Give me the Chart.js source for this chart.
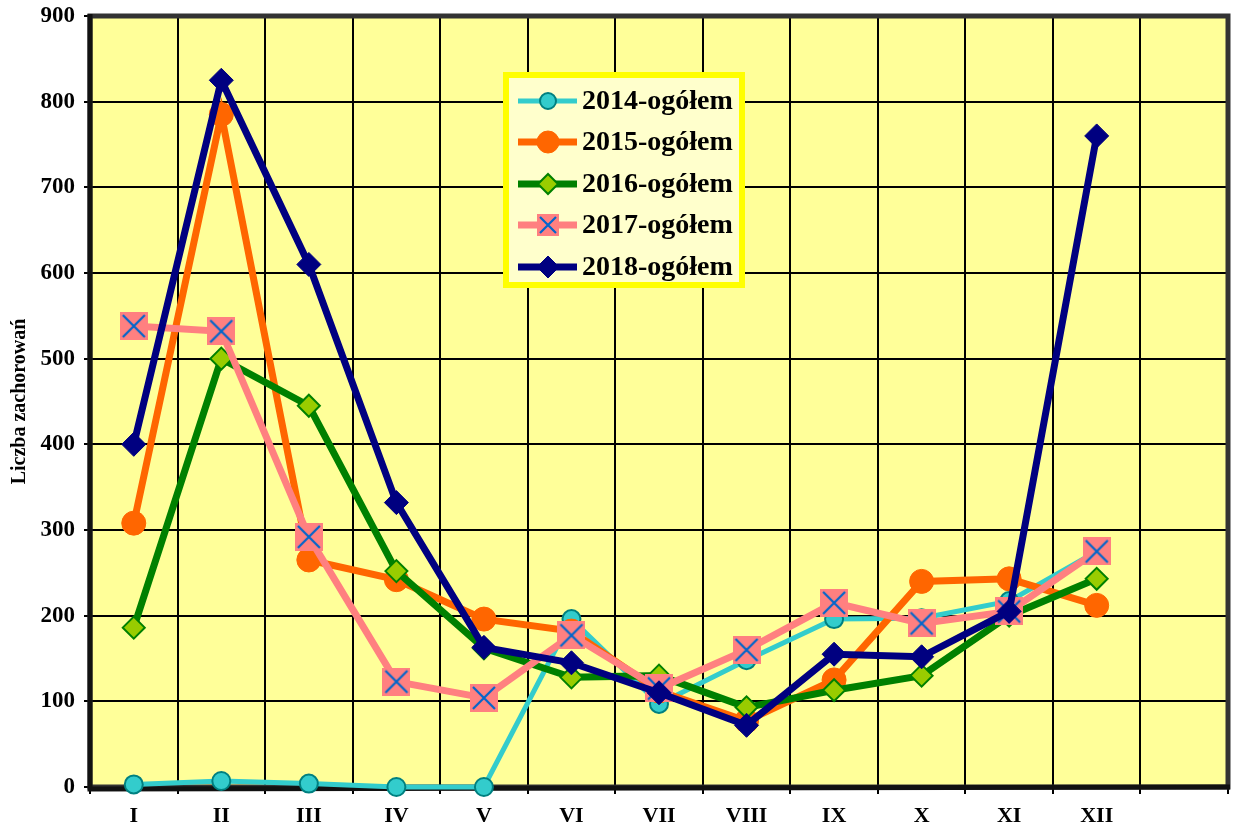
<!DOCTYPE html>
<html lang="pl">
<head>
  <meta charset="UTF-8">
  <title>Liczba zachorowań</title>
  <script src="https://cdn.jsdelivr.net/npm/chart.js"></script>
  <style>
    body { margin: 0; background: #fff; }
    #wrap { width: 1242px; height: 830px; }
  </style>
</head>
<body>
  <div id="wrap"><canvas id="chart" width="1242" height="830"></canvas></div>

  <script>
    // months (13th slot empty, as in the original)
    const months = ['I', 'II', 'III', 'IV', 'V', 'VI', 'VII', 'VIII', 'IX', 'X', 'XI', 'XII', ''];

    const y2014 = [3, 7, 4, 0, 0, 196, 97, 148, 196, 197, 217, 275, null];
    const y2015 = [308, 785, 265, 242, 196, 182, 112, 77, 125, 240, 243, 212, null];
    const y2016 = [186, 500, 445, 252, 162, 128, 130, 93, 113, 130, 200, 243, null];
    const y2017 = [538, 532, 292, 123, 104, 177, 115, 160, 215, 191, 205, 275, null];
    const y2018 = [400, 825, 610, 332, 163, 145, 110, 72, 155, 152, 205, 760, null];

    const seriesNames = ['2014-ogółem', '2015-ogółem', '2016-ogółem', '2017-ogółem', '2018-ogółem'];

    const serif = '"Liberation Serif", "DejaVu Serif", serif';

    // pink square with blue cross marker for 2017
    function crossBox(size) {
      const c = document.createElement('canvas');
      c.width = size; c.height = size;
      const g = c.getContext('2d');
      g.fillStyle = '#FF8080';
      g.fillRect(0, 0, size, size);
      g.strokeStyle = '#0066CC';
      g.lineWidth = 2.2;
      g.beginPath();
      g.moveTo(3, 3); g.lineTo(size - 3, size - 3);
      g.moveTo(size - 3, 3); g.lineTo(3, size - 3);
      g.stroke();
      return c;
    }
    const xMarker = crossBox(28);
    const xMarkerSmall = crossBox(22);

    const bgPlugin = {
      id: 'plotBg',
      beforeDraw(chart) {
        const { ctx, chartArea: a } = chart;
        ctx.save();
        ctx.fillStyle = '#FFFF99';
        ctx.fillRect(a.left, a.top, a.right - a.left, a.bottom - a.top);
        ctx.restore();
      },
      beforeDatasetsDraw(chart) {
        const { ctx, chartArea: a } = chart;
        ctx.save();
        ctx.strokeStyle = '#333333';
        ctx.lineWidth = 5;
        ctx.strokeRect(a.left, a.top, a.right - a.left, a.bottom - a.top);
        ctx.strokeStyle = '#111';
        ctx.beginPath();
        ctx.moveTo(a.left, a.top - 2); ctx.lineTo(a.left, a.bottom + 2);
        ctx.lineTo(a.right + 2, a.bottom);
        ctx.stroke();
        ctx.restore();
      }
    };

    const legendPlugin = {
      id: 'boxLegend',
      afterDraw(chart) {
        const ctx = chart.ctx;
        const bx = 506, by = 75, bw = 236, bh = 210;
        ctx.save();
        ctx.fillStyle = '#FFFFCC';
        ctx.fillRect(bx, by, bw, bh);
        ctx.strokeStyle = '#FFFF00';
        ctx.lineWidth = 6;
        ctx.strokeRect(bx, by, bw, bh);
        const rows = [101, 142, 184, 225, 267];
        chart.data.datasets.forEach((ds, i) => {
          const y = rows[i];
          ctx.strokeStyle = ds.borderColor;
          ctx.lineWidth = ds.borderWidth;
          ctx.beginPath();
          ctx.moveTo(518, y); ctx.lineTo(577, y);
          ctx.stroke();
          if (ds.pointStyle === xMarker) {
            ctx.drawImage(xMarkerSmall, 548 - 11, y - 11);
          } else {
            ctx.fillStyle = ds.pointBackgroundColor;
            ctx.strokeStyle = ds.pointBorderColor;
            ctx.lineWidth = ds.pointBorderWidth;
            Chart.helpers.drawPoint(ctx, {
              pointStyle: ds.pointStyle,
              radius: ds.pointRadius - 1,
              rotation: 0,
              borderWidth: ds.pointBorderWidth
            }, 548, y);
          }
          ctx.fillStyle = '#000';
          ctx.font = 'bold 28px ' + serif;
          ctx.textBaseline = 'middle';
          ctx.textAlign = 'left';
          ctx.fillText(ds.label, 582, y + 1);
        });
        ctx.restore();
      }
    };

    new Chart(document.getElementById('chart'), {
      type: 'line',
      data: {
        labels: months,
        datasets: [
          {
            label: seriesNames[0], data: y2014, order: 5,
            borderColor: '#33CCCC', borderWidth: 5,
            pointStyle: 'circle', pointRadius: 9, pointBorderWidth: 2,
            pointBackgroundColor: '#33CCCC', pointBorderColor: '#008080'
          },
          {
            label: seriesNames[1], data: y2015, order: 4,
            borderColor: '#FF6600', borderWidth: 7,
            pointStyle: 'circle', pointRadius: 12, pointBorderWidth: 1,
            pointBackgroundColor: '#FF6600', pointBorderColor: '#FF6600'
          },
          {
            label: seriesNames[2], data: y2016, order: 3,
            borderColor: '#008000', borderWidth: 7,
            pointStyle: 'rectRot', pointRadius: 11, pointBorderWidth: 2,
            pointBackgroundColor: '#99CC00', pointBorderColor: '#008000'
          },
          {
            label: seriesNames[3], data: y2017, order: 2,
            borderColor: '#FF8080', borderWidth: 7,
            pointStyle: xMarker, pointRadius: 14, pointBorderWidth: 0,
            pointBackgroundColor: '#FF8080', pointBorderColor: '#FF8080'
          },
          {
            label: seriesNames[4], data: y2018, order: 1,
            borderColor: '#000080', borderWidth: 7,
            pointStyle: 'rectRot', pointRadius: 12, pointBorderWidth: 1,
            pointBackgroundColor: '#000080', pointBorderColor: '#000080'
          }
        ]
      },
      options: {
        responsive: false,
        animation: false,
        events: [],
        clip: false,
        layout: { padding: { top: 16, right: 4, bottom: 0, left: 0 } },
        elements: { line: { tension: 0 } },
        plugins: {
          legend: { display: false },
          tooltip: { enabled: false }
        },
        scales: {
          x: {
            offset: true,
            grid: { offset: true, color: '#000', lineWidth: 2, tickLength: 7, tickColor: '#000' },
            border: { display: false },
            ticks: {
              color: '#000', padding: 9, maxRotation: 0, autoSkip: false,
              font: { family: serif, size: 22, weight: 'bold' }
            },
            afterFit(scale) { scale.height = 43; }
          },
          y: {
            min: 0, max: 900,
            grid: { color: '#000', lineWidth: 2, tickLength: 6, tickColor: '#000' },
            border: { display: false },
            ticks: {
              stepSize: 100, color: '#000', padding: 9,
              font: { family: serif, size: 23, weight: 'bold' }
            },
            title: {
              display: true, text: 'Liczba zachorowań', color: '#000',
              padding: { top: 8, bottom: 0 },
              font: { family: serif, size: 20, weight: 'bold' }
            },
            afterFit(scale) {
              scale.width = 90;
              scale.paddingTop = 0;
              scale.paddingBottom = 0;
            }
          }
        }
      },
      plugins: [bgPlugin, legendPlugin]
    });
  </script>
</body>
</html>
